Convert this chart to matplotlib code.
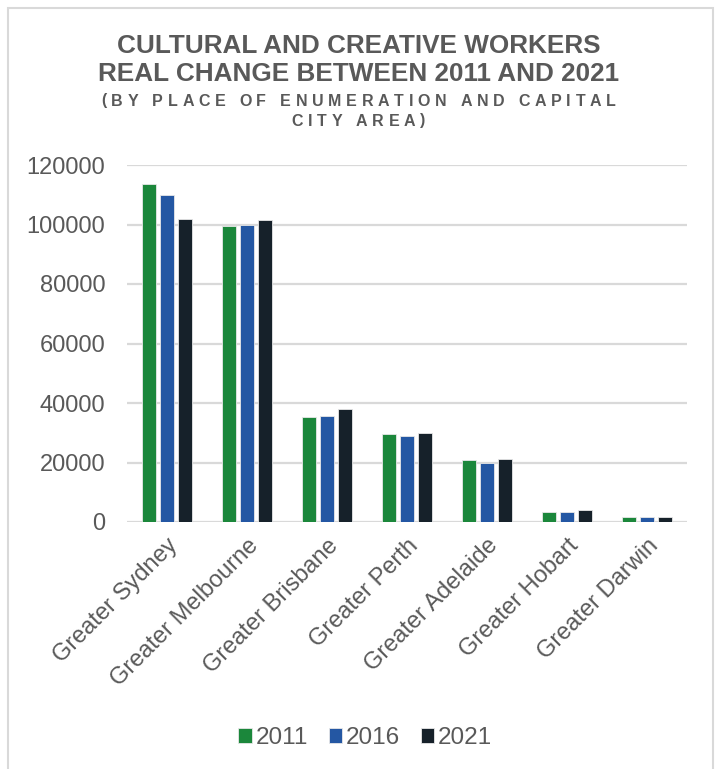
import matplotlib.pyplot as plt
import numpy as np
from matplotlib.patches import Rectangle

plt.rcParams['font.family'] = ['Liberation Sans', 'DejaVu Sans']

cities = ["Greater Sydney", "Greater Melbourne", "Greater Brisbane", "Greater Perth",
          "Greater Adelaide", "Greater Hobart", "Greater Darwin"]
years = ["2011", "2016", "2021"]
workers_2011 = [113500, 99500, 35400, 29600, 20800, 3400, 1800]
workers_2016 = [110000, 99800, 35600, 28900, 19900, 3500, 1800]
workers_2021 = [101700, 101400, 37900, 29900, 21200, 4000, 1800]
colors = ["#1b873b", "#2457a3", "#16212a"]

text_grey = "#595959"
grid_grey = "#d9d9d9"
W, H = 717, 769

fig = plt.figure(figsize=(W / 100, H / 100), dpi=100)
ax = fig.add_axes([127 / W, 1 - 522 / H, 560 / W, 357 / H])

x = np.arange(len(cities))
step = 0.222
width = 0.18
for i, (vals, c) in enumerate(zip([workers_2011, workers_2016, workers_2021], colors)):
    ax.bar(x + (i - 1) * step, vals, width, color=c, label=years[i],
           edgecolor="#e8e8e8", linewidth=0.6, zorder=3)

ax.set_xlim(-0.5, len(cities) - 0.5)
ax.set_ylim(0, 120000)
ax.set_yticks(np.arange(0, 120001, 20000))
ax.yaxis.grid(True, color=grid_grey, linewidth=1.6, zorder=0)
for s in ax.spines.values():
    s.set_visible(False)
ax.tick_params(axis="both", length=0, colors=text_grey, labelsize=17)
ax.tick_params(axis="y", pad=15.5)
ax.set_xticks(x)
ax.set_xticklabels(cities, rotation=45, ha="right", va="top", rotation_mode="anchor")
ax.tick_params(axis="x", pad=9)

# title block
fig.text(0.5, 1 - 46 / H, "CULTURAL AND CREATIVE WORKERS", ha="center", va="center",
         fontsize=18.8, fontweight="bold", color=text_grey)
fig.text(0.5, 1 - 74 / H, "REAL CHANGE BETWEEN 2011 AND 2021", ha="center", va="center",
         fontsize=18.8, fontweight="bold", color=text_grey)

renderer = fig.canvas.get_renderer()


def text_width(s, size):
    t = fig.text(0, 0, s, fontsize=size, fontweight="bold")
    w = t.get_window_extent(renderer).width
    t.remove()
    return w


def tracked_text(s, yc, size, track):
    # letter-spaced line, placed one character at a time
    base = text_width("HH", size)
    adv = [text_width("H" + ch + "H", size) - base for ch in s]
    total = sum(adv) + track * (len(s) - 1)
    xpos = (W - total) / 2
    for ch, a in zip(s, adv):
        if ch != " ":
            fig.text(xpos / W, 1 - yc / H, ch, ha="left", va="center", fontsize=size,
                     fontweight="bold", color=text_grey)
        xpos += a + track


tracked_text("(BY PLACE OF ENUMERATION AND CAPITAL", 101, 11.5, 4.7)
tracked_text("CITY AREA)", 121, 11.5, 4.7)

fig.legend(loc="center", bbox_to_anchor=(365 / W, 1 - 738 / H), ncol=3, frameon=False,
           fontsize=17.5, handlelength=0.55, handleheight=0.55, handletextpad=0.15,
           columnspacing=0.86, labelcolor=text_grey)

# chart area border
fig.patches.append(Rectangle((8 / W, -0.05), 705 / W, 1.05 - 8 / H,
                             transform=fig.transFigure, fill=False,
                             edgecolor=grid_grey, linewidth=1.5))

fig.savefig("out.png", dpi=100)
